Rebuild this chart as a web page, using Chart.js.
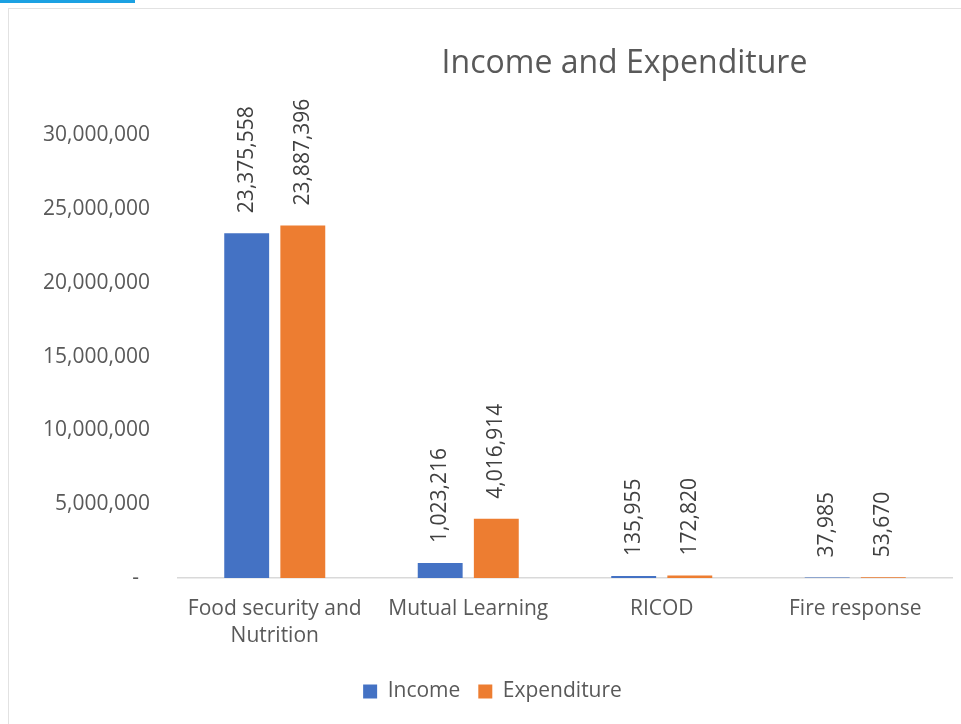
<!DOCTYPE html>
<html>
<head>
<meta charset="utf-8">
<script src="https://cdn.jsdelivr.net/npm/chart.js@4"></script>
<style>
  html, body { margin: 0; padding: 0; background: #fff; }
  #wrap { position: relative; width: 961px; height: 724px; overflow: hidden; }
  #tab { position: absolute; left: 0; top: 0; width: 135px; height: 3px; background: #1ba1e2; }
  #frame { position: absolute; left: 8px; top: 8px; width: 980px; height: 760px; border: 1px solid #e2e2e2; box-sizing: border-box; }
  canvas { position: absolute; left: 0; top: 0; }
</style>
</head>
<body>
<div id="wrap">
  <div id="tab"></div>
  <div id="frame"></div>
  <canvas id="chart" width="961" height="724"></canvas>
</div>
<script>
// categories and values
const categories = [['Food security and', 'Nutrition'], 'Mutual Learning', 'RICOD', 'Fire response'];
const income = [23375558, 1023216, 135955, 37985];
const expenditure = [23887396, 4016914, 172820, 53670];
const yTicks = [0, 5000000, 10000000, 15000000, 20000000, 25000000, 30000000];

Chart.defaults.font.family = "'Open Sans', sans-serif";
Chart.defaults.color = '#595959';

// vertical value labels above each bar
const valueLabels = {
    id: 'valueLabels',
    afterDatasetsDraw(chart) {
        const ctx = chart.ctx;
        ctx.save();
        ctx.font = "21px 'Open Sans', sans-serif";
        ctx.fillStyle = '#404040';
        ctx.textAlign = 'left';
        ctx.textBaseline = 'middle';
        chart.data.datasets.forEach((ds, i) => {
            chart.getDatasetMeta(i).data.forEach((bar, j) => {
                ctx.save();
                ctx.translate(bar.x, bar.y - 20);
                ctx.rotate(-Math.PI / 2);
                ctx.fillText(ds.data[j].toLocaleString('en-US'), 0, 0);
                ctx.restore();
            });
        });
        ctx.restore();
    }
};

// nudge title and legend sideways like the original
const shiftBoxes = {
    id: 'shiftBoxes',
    afterLayout(chart) {
        if (chart.titleBlock) { chart.titleBlock.left += 144; chart.titleBlock.right += 144; }
        if (chart.legend) { chart.legend.left += 12; chart.legend.right += 12; }
    }
};

const ctx = document.getElementById('chart').getContext('2d');
const chart = new Chart(ctx, {
    type: 'bar',
    data: {
        labels: categories,
        datasets: [{
            label: 'Income',
            data: income,
            backgroundColor: '#4472C4',
            categoryPercentage: 0.58,
            barPercentage: 0.8
        }, {
            label: 'Expenditure',
            data: expenditure,
            backgroundColor: '#ED7D31',
            categoryPercentage: 0.58,
            barPercentage: 0.8
        }]
    },
    options: {
        responsive: false,
        animation: false,
        layout: { padding: { left: 9, right: 9, top: 0, bottom: 12 } },
        plugins: {
            title: {
                display: true,
                text: 'Income and Expenditure',
                color: '#595959',
                font: { size: 32, weight: 'normal' },
                padding: { top: 45, bottom: 52 }
            },
            legend: {
                position: 'bottom',
                labels: {
                    boxWidth: 14,
                    boxHeight: 14,
                    padding: 18,
                    color: '#595959',
                    font: { size: 21 }
                }
            },
            tooltip: { enabled: false }
        },
        scales: {
            x: {
                grid: { display: false, drawTicks: false },
                border: { display: true, color: '#d9d9d9', width: 1.5 },
                ticks: { padding: 17, color: '#595959', font: { size: 21, lineHeight: 1.3 }, maxRotation: 0 },
                afterFit(scale) { scale.height = 85; }
            },
            y: {
                min: 0,
                max: 30000000,
                grid: { display: false, drawTicks: false },
                border: { display: false },
                afterBuildTicks(scale) { scale.ticks = yTicks.map(v => ({ value: v })); },
                ticks: {
                    padding: 28,
                    color: '#595959',
                    font: { size: 21 },
                    callback: v => v === 0 ? '-  ' : v.toLocaleString('en-US')
                },
                afterFit(scale) { scale.width = 169; }
            }
        }
    },
    plugins: [valueLabels, shiftBoxes]
});
</script>
</body>
</html>
